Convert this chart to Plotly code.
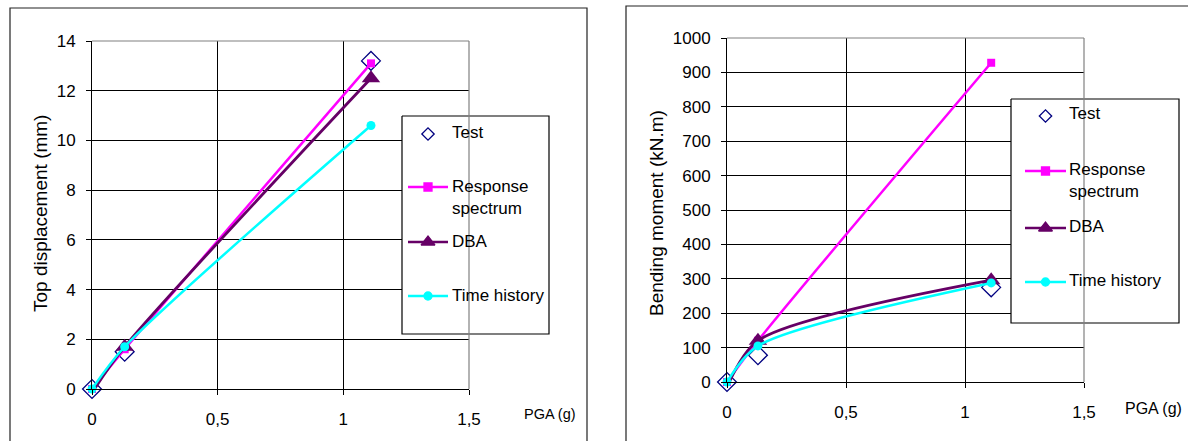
import plotly.graph_objects as go

W, H = 1188, 441

# ---------------- data ----------------
pga = [0, 0.13, 1.11]
disp_test = [0, 1.5, 13.2]
disp_rs = [0, 1.6, 13.1]
disp_dba = [-0.15, 1.7, 12.5]
disp_th = [0, 1.7, 10.6]

mom_test = [0, 78, 275]
mom_rs = [0, 120, 928]
mom_dba = [-15, 120, 296]
mom_th = [0, 105, 288]

x_tickvals = [0, 0.5, 1, 1.5]
x_ticktext = ["0", "0,5", "1", "1,5"]
series_names = ["Test", "Response<br>spectrum", "DBA", "Time history"]

NAVY, MAG, DBA, CYAN = "#000080", "#FF00FF", "#660066", "#00FFFF"
FONT = "Liberation Sans, Arial, sans-serif"


def px(x):
    return x / W


def py(y):
    return 1 - y / H


fig = go.Figure()


def add_series(xa, ya, test, rs, dba, th):
    fig.add_trace(go.Scatter(x=pga, y=test, mode="markers", xaxis=xa, yaxis=ya,
                             marker=dict(symbol="diamond-open", size=14.5, color=NAVY,
                                         line=dict(width=1.3, color=NAVY)),
                             cliponaxis=False, showlegend=False))
    fig.add_trace(go.Scatter(x=pga, y=rs, mode="lines+markers", xaxis=xa, yaxis=ya,
                             line=dict(color=MAG, width=2.5, shape="spline", smoothing=0.8),
                             marker=dict(symbol="square", size=8, color=MAG),
                             cliponaxis=False, showlegend=False))
    fig.add_trace(go.Scatter(x=pga, y=dba, mode="lines+markers", xaxis=xa, yaxis=ya,
                             line=dict(color=DBA, width=2.8, shape="spline", smoothing=0.8),
                             marker=dict(symbol="triangle-up", size=16, color=DBA),
                             cliponaxis=False, showlegend=False))
    fig.add_trace(go.Scatter(x=pga, y=th, mode="lines+markers", xaxis=xa, yaxis=ya,
                             line=dict(color=CYAN, width=2.5, shape="spline", smoothing=0.8),
                             marker=dict(symbol="circle", size=9, color=CYAN),
                             cliponaxis=False, showlegend=False))


add_series("x", "y", disp_test, disp_rs, disp_dba, disp_th)
add_series("x2", "y2", mom_test, mom_rs, mom_dba, mom_th)

axis_common = dict(showgrid=True, gridcolor="#000000", gridwidth=1, showline=True,
                   linecolor="#000000", linewidth=1, ticks="outside", ticklen=5,
                   tickcolor="#000000", zeroline=False, tickfont=dict(family=FONT, size=17, color="#000"),
                   fixedrange=True, automargin=False)

fig.update_layout(
    width=W, height=H, margin=dict(l=0, r=0, t=0, b=0, pad=0, autoexpand=False),
    paper_bgcolor="white", plot_bgcolor="rgba(0,0,0,0)",
    font=dict(family=FONT, color="#000"),
    xaxis=dict(domain=[px(92), px(469)], range=[0, 1.5], tickvals=x_tickvals, ticktext=x_ticktext,
               anchor="y", ticklabelstandoff=10, **axis_common),
    yaxis=dict(domain=[py(389), py(41)], range=[0, 14], dtick=2, anchor="x",
               ticklabelstandoff=7, **axis_common),
    xaxis2=dict(domain=[px(727), px(1084)], range=[0, 1.5], tickvals=x_tickvals, ticktext=x_ticktext,
                anchor="y2", ticklabelstandoff=10, **axis_common),
    yaxis2=dict(domain=[py(382), py(38)], range=[0, 1000], dtick=100, anchor="x2",
                ticklabelstandoff=7, **axis_common),
    xaxis3=dict(domain=[0, 1], range=[0, W], visible=False, fixedrange=True, anchor="y3", automargin=False),
    yaxis3=dict(domain=[0, 1], range=[H, 0], visible=False, fixedrange=True, anchor="x3", automargin=False),
    showlegend=False,
)

shapes = []
# outer chart frames
shapes.append(dict(type="rect", xref="paper", yref="paper", x0=px(10), x1=px(587), y0=-0.1, y1=py(8),
                   line=dict(color="#222", width=1.2), layer="below"))
shapes.append(dict(type="rect", xref="paper", yref="paper", x0=px(626), x1=1.1, y0=-0.1, y1=py(6),
                   line=dict(color="#222", width=1.2), layer="below"))
# gray plot-area borders (top and right)
for xa, ya in (("x", "y"), ("x2", "y2")):
    shapes.append(dict(type="line", xref=xa + " domain", yref=ya + " domain", x0=0, x1=1, y0=1, y1=1,
                       line=dict(color="#808080", width=1.2), layer="above"))
    shapes.append(dict(type="line", xref=xa + " domain", yref=ya + " domain", x0=1, x1=1, y0=0, y1=1,
                       line=dict(color="#808080", width=1.2), layer="above"))
fig.update_layout(shapes=shapes)

annotations = []
# axis titles
annotations.append(dict(text="Top displacement (mm)", x=px(40), y=py(214), xref="paper", yref="paper",
                        textangle=-90, showarrow=False, font=dict(size=19, family=FONT),
                        xanchor="center", yanchor="middle"))
annotations.append(dict(text="Bending moment (kN.m)", x=px(656), y=py(213), xref="paper", yref="paper",
                        textangle=-90, showarrow=False, font=dict(size=19, family=FONT),
                        xanchor="center", yanchor="middle"))
annotations.append(dict(text="PGA (g)", x=px(522), y=py(414), xref="paper", yref="paper",
                        showarrow=False, font=dict(size=14.5, family=FONT),
                        xanchor="left", yanchor="middle"))
annotations.append(dict(text="PGA (g)", x=px(1123), y=py(408), xref="paper", yref="paper",
                        showarrow=False, font=dict(size=16, family=FONT),
                        xanchor="left", yanchor="middle"))


# ---------------- custom legends (drawn on a full-figure overlay in pixel units) ----------------
def legend(box, lx0, lx1, text_x, rows):
    bx0, by0, bx1, by1 = box
    fig.add_trace(go.Scatter(x=[bx0, bx1, bx1, bx0, bx0], y=[by0, by0, by1, by1, by0], mode="lines",
                             fill="toself", fillcolor="white", line=dict(color="#000", width=1.2),
                             xaxis="x3", yaxis="y3", hoverinfo="skip", showlegend=False))
    sym = [("diamond-open", 9.5, NAVY, None), ("square", 8, MAG, MAG), ("triangle-up", 12, DBA, DBA),
           ("circle", 8, CYAN, CYAN)]
    for i, (ly, ty) in enumerate(rows):
        s, sz, col, lc = sym[i]
        mx = (lx0 + lx1) / 2
        if lc:
            fig.add_trace(go.Scatter(x=[lx0, lx1], y=[ly, ly], mode="lines", line=dict(color=lc, width=2.5),
                                     xaxis="x3", yaxis="y3", hoverinfo="skip", showlegend=False))
        fig.add_trace(go.Scatter(x=[mx], y=[ly], mode="markers",
                                 marker=dict(symbol=s, size=sz, color=col, line=dict(color=col, width=1.3)),
                                 xaxis="x3", yaxis="y3", hoverinfo="skip", showlegend=False))
        annotations.append(dict(text=series_names[i], x=px(text_x), y=py(ty), xref="paper", yref="paper",
                                showarrow=False, font=dict(size=17, family=FONT), align="left",
                                xanchor="left", yanchor="middle"))


legend((402, 116, 549, 334), 408, 448, 450, [(134, 132), (187, 197), (242, 241), (296, 295)])
legend((1011, 99, 1179, 323), 1025, 1066, 1067, [(116, 113), (171, 180), (228, 226), (282, 280)])

fig.update_layout(annotations=annotations)

fig.write_html("out.html", config={"displayModeBar": False, "staticPlot": True},
               post_script="document.body.style.margin='0';document.body.style.overflow='hidden';")
